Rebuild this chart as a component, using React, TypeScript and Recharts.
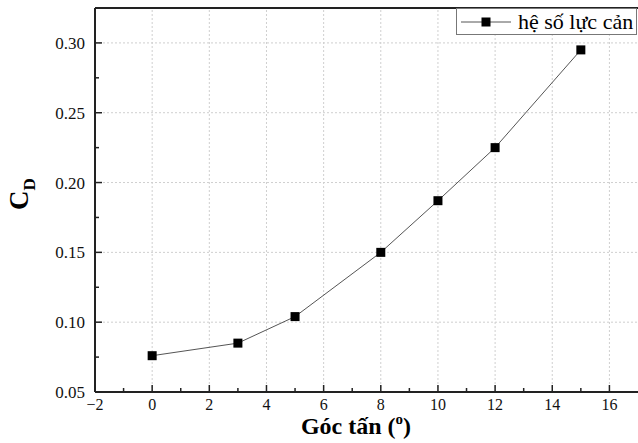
import React from 'react';
import { LineChart, Line, XAxis, YAxis, ReferenceLine } from 'recharts';

const angles = [0, 3, 5, 8, 10, 12, 15];
const cd = [0.076, 0.085, 0.104, 0.150, 0.187, 0.225, 0.295];

const xMajor = [-2, 0, 2, 4, 6, 8, 10, 12, 14, 16];
const xMinor = [-1, 1, 3, 5, 7, 9, 11, 13, 15];
const yMajor = [0.05, 0.10, 0.15, 0.20, 0.25, 0.30];
const yMinor = [0.075, 0.125, 0.175, 0.225, 0.275];

const seriesName = 'hệ số lực cản';
const xTitle = 'Góc tấn (';
const yTitle = 'C';

const data = angles.map((a, i) => ({ angle: a, cd: cd[i] }));

const FONT = 'Liberation Serif';
const AXIS = '#222';

const XTick = (props: any) => {
  const { x, y, payload } = props;
  const major = xMajor.includes(payload.value);
  const ay = y - 14;
  return (
    <g>
      <line x1={x} y1={ay} x2={x} y2={ay - (major ? 7 : 4)} stroke={AXIS} strokeWidth={1.5} />
      {major && (
        <text x={x} y={y} dy={4} textAnchor="middle" fontSize={16} fontFamily={FONT} fill="#111">
          {payload.value < 0 ? '\u2212' + Math.abs(payload.value) : payload.value}
        </text>
      )}
    </g>
  );
};

const YTick = (props: any) => {
  const { x, y, payload } = props;
  const major = yMajor.some((v) => Math.abs(v - payload.value) < 1e-6);
  const ax = x + 10;
  return (
    <g>
      <line x1={ax} y1={y} x2={ax + (major ? 7 : 4)} y2={y} stroke={AXIS} strokeWidth={1.5} />
      {major && (
        <text x={x} y={y} dy={6} textAnchor="end" fontSize={17} fontFamily={FONT} fill="#111">
          {payload.value.toFixed(2)}
        </text>
      )}
    </g>
  );
};

const Square = (props: any) => {
  const { cx, cy } = props;
  if (cx == null || cy == null) return null;
  return <rect x={cx - 4.5} y={cy - 4.5} width={9} height={9} fill="#000" />;
};

export default function App() {
  return (
    <div style={{ position: 'absolute', left: 0, top: 0, width: 638, height: 443, background: '#fff' }}>
      <LineChart
        width={638}
        height={443}
        data={data}
        margin={{ top: 8, right: 0, left: 0, bottom: 0 }}
      >
        {xMajor.slice(1).map((v) => (
          <ReferenceLine key={'gx' + v} x={v} stroke="#cfcfcf" strokeDasharray="2 2" />
        ))}
        {yMajor.slice(1).map((v) => (
          <ReferenceLine key={'gy' + v} y={v} stroke="#cfcfcf" strokeDasharray="2 2" />
        ))}
        <ReferenceLine y={0.325} stroke={AXIS} strokeWidth={2} />
        <XAxis
          dataKey="angle"
          type="number"
          domain={[-2, 17]}
          ticks={[...xMajor, ...xMinor].sort((a, b) => a - b)}
          interval={0}
          height={51}
          tickSize={0}
          tickMargin={14}
          tick={<XTick />}
          axisLine={{ stroke: AXIS, strokeWidth: 2 }}
          label={{
            content: () => (
              <text x={356} y={434} textAnchor="middle" fontFamily={FONT} fontWeight="bold" fontSize={24} fill="#000">
                {xTitle}
                <tspan fontSize={15} dy={-10}>o</tspan>
                <tspan dy={10}>)</tspan>
              </text>
            ),
          }}
        />
        <YAxis
          type="number"
          domain={[0.05, 0.325]}
          ticks={[...yMajor, ...yMinor].sort((a, b) => a - b)}
          interval={0}
          width={95}
          tickSize={0}
          tickMargin={10}
          tick={<YTick />}
          axisLine={{ stroke: AXIS, strokeWidth: 2 }}
          label={{
            content: () => (
              <text
                x={28}
                y={194}
                transform="rotate(-90, 28, 194)"
                textAnchor="middle"
                fontFamily={FONT}
                fontWeight="bold"
                fontSize={27}
                fill="#000"
              >
                {yTitle}
                <tspan fontSize={17} dy={7}>D</tspan>
              </text>
            ),
          }}
        />
        <Line
          dataKey="cd"
          name={seriesName}
          stroke="#555"
          strokeWidth={1}
          dot={<Square />}
          activeDot={false}
          isAnimationActive={false}
        />
      </LineChart>
      <div
        style={{
          position: 'absolute',
          left: 456,
          top: 8,
          width: 181,
          height: 27,
          border: '1px solid #777',
          boxSizing: 'border-box',
          background: '#fff',
          display: 'flex',
          alignItems: 'center',
          fontFamily: FONT,
          fontSize: 22,
          color: '#000',
        }}
      >
        <svg width={58} height={20} style={{ marginLeft: 3 }}>
          <line x1={1} y1={10} x2={51} y2={10} stroke="#555" strokeWidth={1} />
          <rect x={21.5} y={5.5} width={9} height={9} fill="#000" />
        </svg>
        <span style={{ whiteSpace: 'nowrap' }}>{seriesName}</span>
      </div>
    </div>
  );
}
